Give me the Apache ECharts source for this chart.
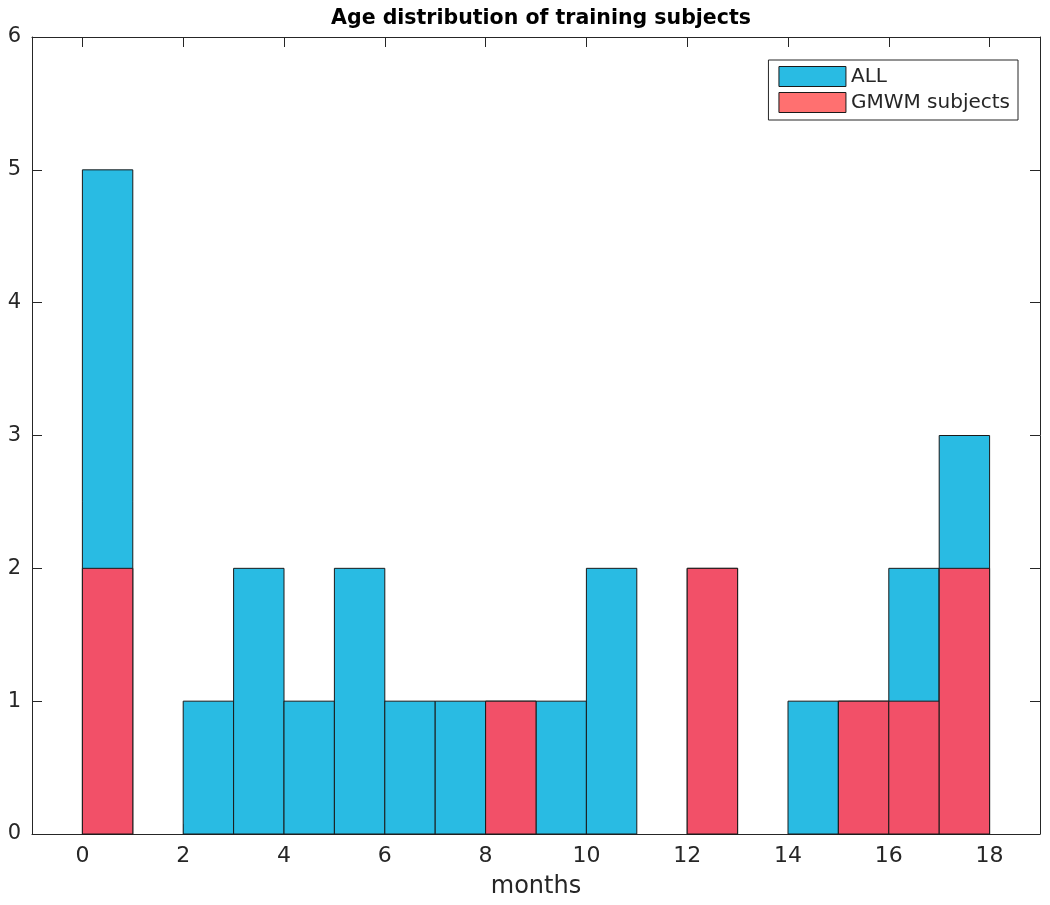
<!DOCTYPE html>
<html>
<head>
<meta charset="utf-8">
<script src="https://cdn.jsdelivr.net/npm/echarts@6/dist/echarts.min.js"></script>
<style>html,body{margin:0;padding:0;background:#fff;}#c{width:1050px;height:905px;}</style>
</head>
<body>
<div id="c"></div>
<script>
var binEdges = [0,1,2,3,4,5,6,7,8,9,10,11,12,13,14,15,16,17,18];
var allCounts = [5,0,1,2,1,2,1,1,1,1,2,0,2,0,1,1,2,3];
var gmwmCounts = [2,0,0,0,0,0,0,0,1,0,0,0,2,0,0,1,1,2];
var xTicks = [0,2,4,6,8,10,12,14,16,18];
var yTicks = [0,1,2,3,4,5,6];

function toData(counts){
  var d = [];
  for (var i = 0; i < counts.length; i++) {
    if (counts[i] > 0) d.push([binEdges[i], binEdges[i+1], counts[i]]);
  }
  return d;
}
function renderBar(params, api){
  var p0 = api.coord([api.value(0), api.value(2)]);
  var p1 = api.coord([api.value(1), 0]);
  return {
    type: 'rect',
    shape: {x: p0[0], y: p0[1], width: p1[0]-p0[0], height: p1[1]-p0[1]},
    style: {fill: api.visual('color'), stroke: '#1a1a1a', lineWidth: 1}
  };
}
var txt = '#262626';
var font = 'DejaVu Sans';
var chart = echarts.init(document.getElementById('c'));
chart.setOption({
  backgroundColor: '#fff',
  animation: false,
  textStyle: {fontFamily: font},
  title: {
    text: 'Age distribution of training subjects',
    left: 536, textAlign: 'center', top: 3,
    textStyle: {fontFamily: font, fontSize: 20.5, fontWeight: 'bold', color: '#000'}
  },
  legend: {
    orient: 'vertical', right: 32, top: 60,
    backgroundColor: '#fff', borderColor: '#262626', borderWidth: 1,
    padding: [6, 8, 7, 10], itemWidth: 67, itemHeight: 20, itemGap: 5,
    icon: 'rect',
    textStyle: {fontFamily: font, fontSize: 20, color: txt},
    itemStyle: {borderColor: '#1a1a1a', borderWidth: 1},
    data: [
      {name: 'ALL', itemStyle: {color: '#29BBE3'}},
      {name: 'GMWM subjects', itemStyle: {color: '#FF7070'}}
    ]
  },
  grid: {left: 32, right: 10, top: 37, bottom: 71, containLabel: false},
  xAxis: [{
    type: 'value', min: -1, max: 19, position: 'bottom',
    name: 'months', nameLocation: 'middle', nameGap: 41,
    nameTextStyle: {fontFamily: font, fontSize: 24, color: txt},
    axisLine: {show: true, onZero: false, lineStyle: {color: txt}},
    axisTick: {show: true, inside: true, length: 10, customValues: xTicks, lineStyle: {color: txt}},
    axisLabel: {customValues: xTicks, fontSize: 22, color: txt, margin: 11, fontFamily: font},
    splitLine: {show: false}
  }, {
    type: 'value', min: -1, max: 19, position: 'top',
    axisLine: {show: true, onZero: false, lineStyle: {color: txt}},
    axisTick: {show: true, inside: true, length: 10, customValues: xTicks, lineStyle: {color: txt}},
    axisLabel: {show: false},
    splitLine: {show: false}
  }],
  yAxis: [{
    type: 'value', min: 0, max: 6, interval: 1, position: 'left',
    axisLine: {show: true, onZero: false, lineStyle: {color: txt}},
    axisTick: {show: true, inside: true, length: 10, lineStyle: {color: txt}},
    axisLabel: {fontSize: 21, color: txt, margin: 11, fontFamily: font},
    splitLine: {show: false}
  }, {
    type: 'value', min: 0, max: 6, interval: 1, position: 'right',
    axisLine: {show: true, onZero: false, lineStyle: {color: txt}},
    axisTick: {show: true, inside: true, length: 10, lineStyle: {color: txt}},
    axisLabel: {show: false},
    splitLine: {show: false}
  }],
  series: [{
    name: 'ALL', type: 'custom', xAxisIndex: 0, yAxisIndex: 0,
    itemStyle: {color: '#29BBE3'},
    encode: {x: [0, 1], y: 2},
    renderItem: renderBar,
    data: toData(allCounts)
  }, {
    name: 'GMWM subjects', type: 'custom', xAxisIndex: 0, yAxisIndex: 0,
    itemStyle: {color: '#F25068'},
    encode: {x: [0, 1], y: 2},
    renderItem: renderBar,
    data: toData(gmwmCounts)
  }]
});
</script>
</body>
</html>
